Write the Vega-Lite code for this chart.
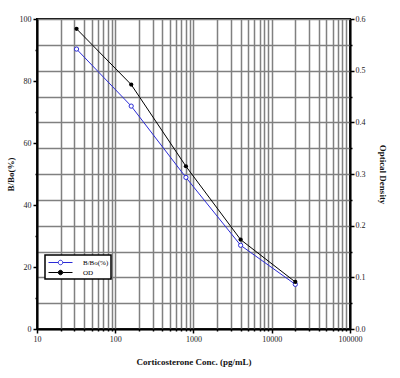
{
  "$schema": "https://vega.github.io/schema/vega-lite/v6.json",
  "width": 313,
  "height": 310,
  "autosize": {"type": "none"},
  "padding": {"left": 37, "top": 19, "right": 50, "bottom": 49},
  "background": "white",
  "datasets": {
    "bbo": [
      {"conc": 32, "value": 90.3, "series": "B/Bo(%)"},
      {"conc": 160, "value": 71.9, "series": "B/Bo(%)"},
      {"conc": 800, "value": 48.9, "series": "B/Bo(%)"},
      {"conc": 4000, "value": 27.0, "series": "B/Bo(%)"},
      {"conc": 20000, "value": 14.4, "series": "B/Bo(%)"}
    ],
    "od": [
      {"conc": 32, "value": 0.581, "series": "OD"},
      {"conc": 160, "value": 0.473, "series": "OD"},
      {"conc": 800, "value": 0.315, "series": "OD"},
      {"conc": 4000, "value": 0.173, "series": "OD"},
      {"conc": 20000, "value": 0.091, "series": "OD"}
    ]
  },
  "config": {
    "font": "Liberation Serif",
    "view": {"stroke": "black", "strokeWidth": 2},
    "axis": {
      "labelFont": "Liberation Serif",
      "labelFontSize": 8,
      "labelColor": "#222",
      "titleFont": "Liberation Serif",
      "titleFontSize": 9,
      "titleFontWeight": "bold",
      "titleColor": "#111",
      "domainColor": "black",
      "domainWidth": 2,
      "tickColor": "black",
      "tickWidth": 1.5,
      "gridColor": "#808080",
      "gridWidth": 1.5,
      "gridOpacity": 1,
      "labelOverlap": false,
      "labelFlush": false
    },
    "legend": {
      "orient": "none",
      "legendX": 8,
      "legendY": 236,
      "title": null,
      "symbolType": "M-2.4,0H-0.45M0.45,0H2.4M-0.45,0A0.45,0.45,0,1,1,0.45,0A0.45,0.45,0,1,1,-0.45,0",
      "symbolSize": 100,
      "symbolOffset": 8,
      "symbolStrokeWidth": 1,
      "strokeColor": "black",
      "strokeWidth": 1.5,
      "fillColor": "white",
      "padding": 2,
      "labelFont": "Liberation Serif",
      "labelFontSize": 7,
      "labelOffset": 17,
      "rowPadding": 0
    }
  },
  "encoding": {
    "x": {
      "field": "conc",
      "type": "quantitative",
      "scale": {"type": "log", "domain": [10, 100000]},
      "axis": {
        "title": "Corticosterone Conc. (pg/mL)",
        "titlePadding": 14,
        "values": [10, 20, 30, 40, 50, 60, 70, 80, 90, 100, 200, 300, 400, 500, 600, 700, 800, 900, 1000, 2000, 3000, 4000, 5000, 6000, 7000, 8000, 9000, 10000, 20000, 30000, 40000, 50000, 60000, 70000, 80000, 90000, 100000],
        "format": "d",
        "labelExpr": "indexof([10, 100, 1000, 10000, 100000], datum.value) >= 0 ? datum.label : ''",
        "grid": true,
        "tickSize": {"condition": {"test": "indexof([10, 100, 1000, 10000, 100000], datum.value) >= 0", "value": 4}, "value": 2},
        "labelPadding": 2
      }
    }
  },
  "layer": [
    {
      "data": {"name": "bbo"},
      "encoding": {
        "y": {
          "field": "value",
          "type": "quantitative",
          "scale": {"domain": [0, 100]},
          "axis": {
            "title": "B/Bo(%)",
            "titlePadding": 4,
            "values": [0, 10, 20, 30, 40, 50, 60, 70, 80, 90, 100],
            "labelExpr": "datum.value % 20 === 0 ? datum.label : ''",
            "grid": false,
            "tickSize": {"condition": {"test": "datum.value % 20 === 0", "value": 4}, "value": 2},
            "labelPadding": 2
          }
        }
      },
      "layer": [
        {
          "mark": {"type": "line", "strokeWidth": 1},
          "encoding": {
            "color": {
              "field": "series",
              "type": "nominal",
              "scale": {"domain": ["B/Bo(%)", "OD"], "range": ["#2b2bd6", "black"]},
              "legend": {
                "encode": {
                  "symbols": {"update": {"fill": {"signal": "datum.value === 'OD' ? 'black' : 'white'"}}}
                }
              }
            }
          }
        },
        {
          "mark": {"type": "point", "shape": "circle", "size": 18, "filled": false, "fill": "white", "fillOpacity": 1, "stroke": "#2b2bd6", "strokeWidth": 1, "opacity": 1}
        }
      ]
    },
    {
      "data": {"name": "od"},
      "encoding": {
        "y": {
          "field": "value",
          "type": "quantitative",
          "scale": {"domain": [0, 0.6]},
          "axis": {
            "orient": "right",
            "title": "Optical Density",
            "titlePadding": 12,
            "values": [0, 0.05, 0.1, 0.15, 0.2, 0.25, 0.3, 0.35, 0.4, 0.45, 0.5, 0.55, 0.6],
            "format": ".1f",
            "labelExpr": "abs(datum.value * 10 - round(datum.value * 10)) < 0.001 ? datum.label : ''",
            "grid": true,
            "tickSize": {"condition": {"test": "abs(datum.value * 10 - round(datum.value * 10)) < 0.001", "value": 4}, "value": 2},
            "labelPadding": 1
          }
        }
      },
      "layer": [
        {
          "mark": {"type": "line", "strokeWidth": 1},
          "encoding": {"color": {"field": "series", "type": "nominal"}}
        },
        {
          "mark": {"type": "point", "shape": "circle", "size": 18, "filled": true, "color": "black", "opacity": 1}
        }
      ]
    }
  ],
  "resolve": {"scale": {"y": "independent"}, "axis": {"y": "independent"}}
}
